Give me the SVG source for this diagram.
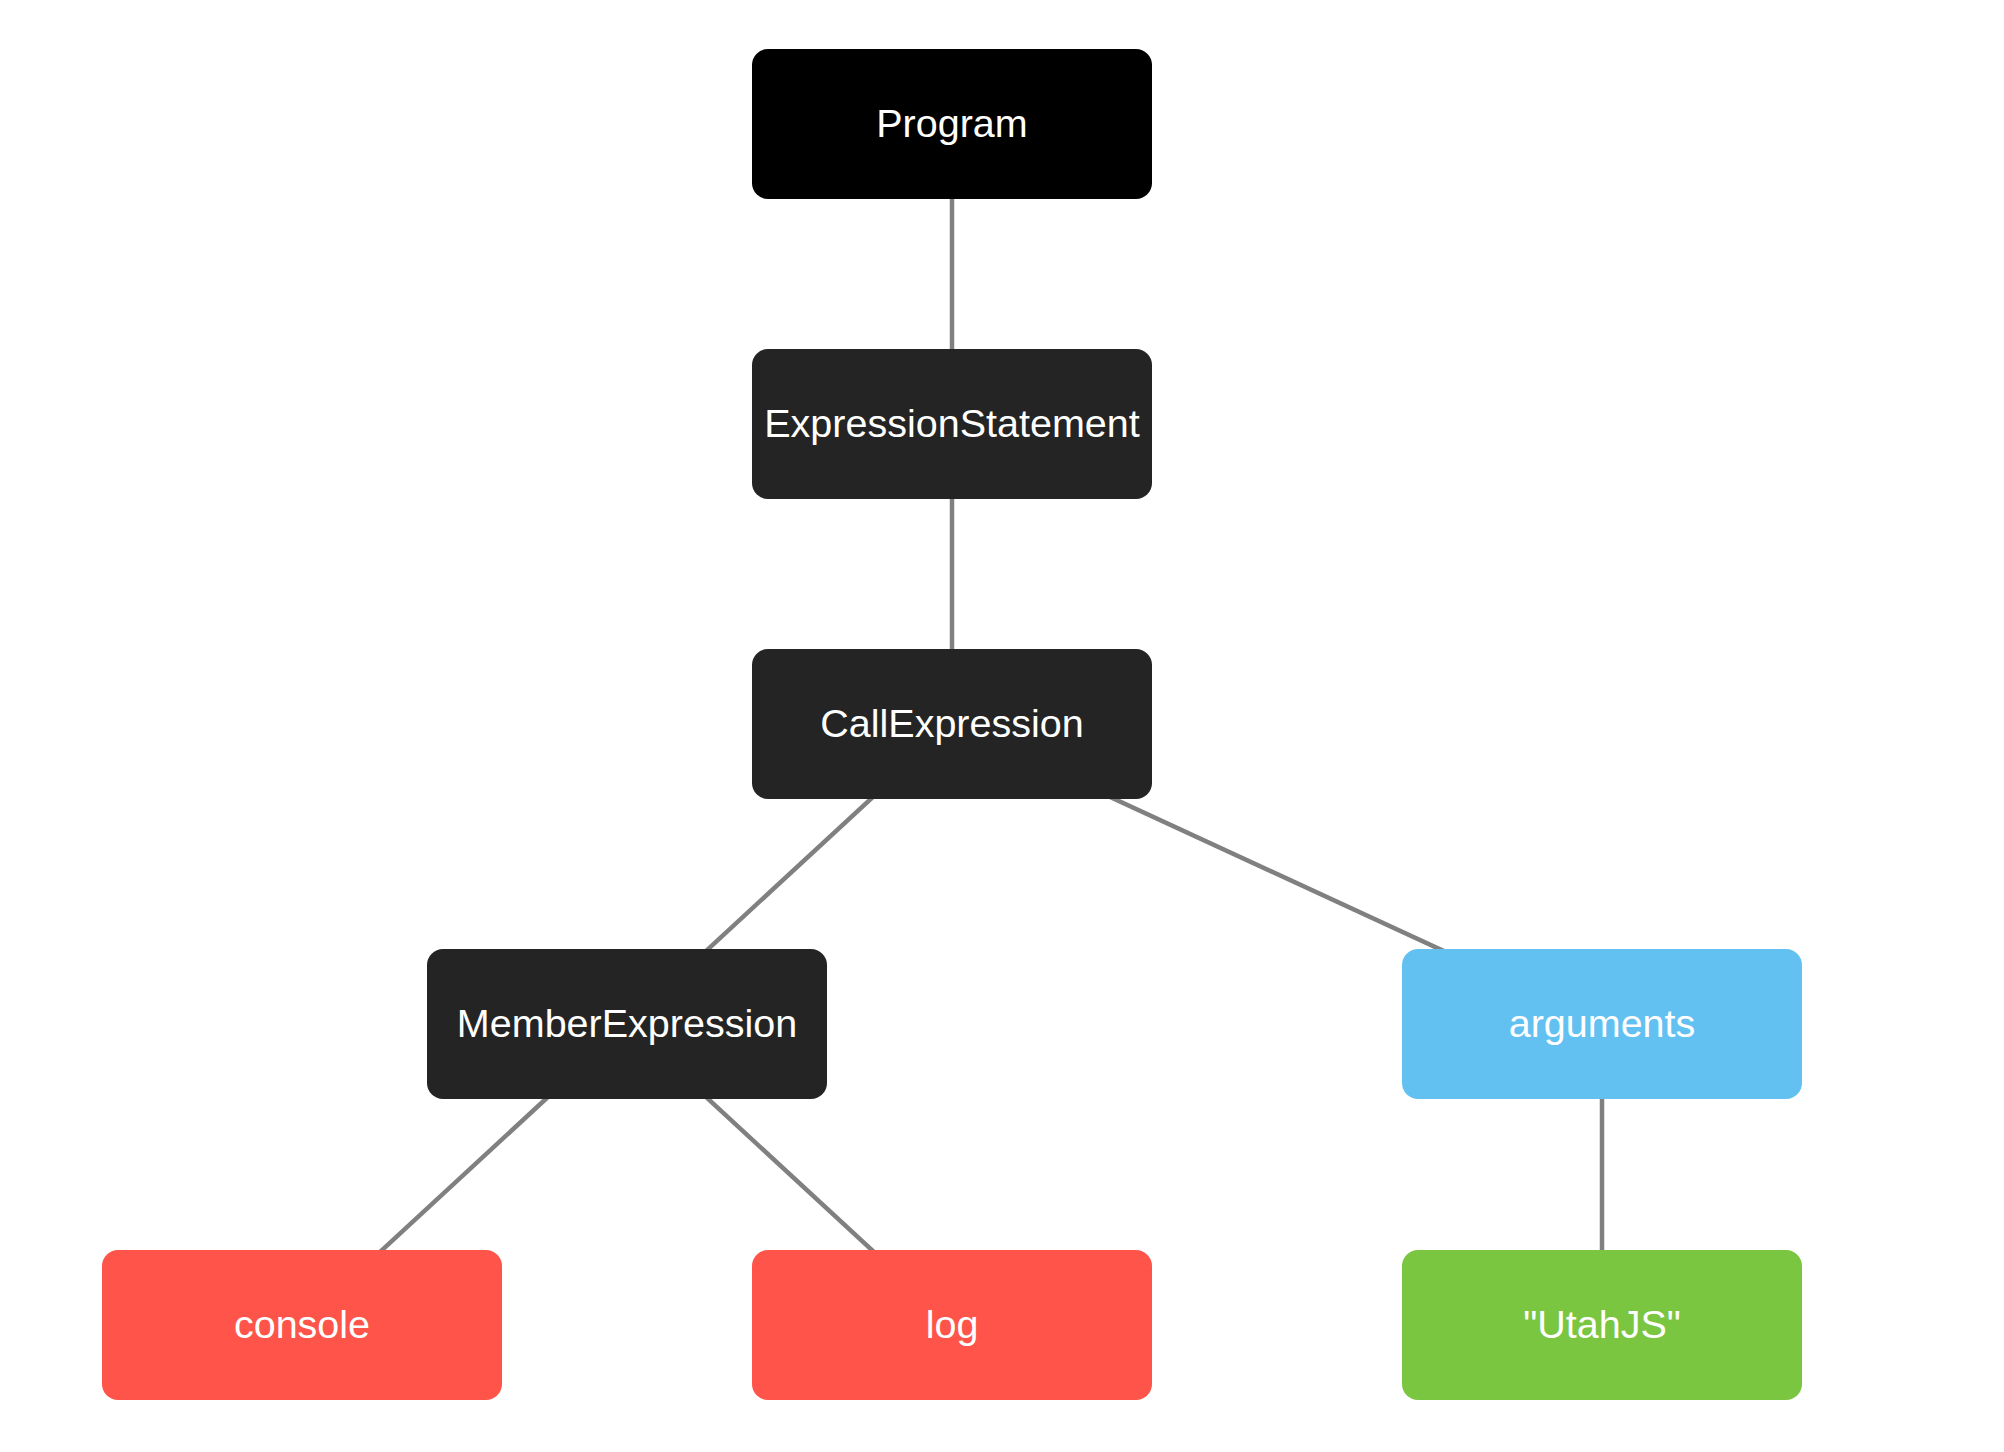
<svg xmlns="http://www.w3.org/2000/svg" width="2004" height="1452" viewBox="0 0 2004 1452">
<style>
.box{stroke:none}
.lbl{font-family:"Liberation Sans",Arial,Helvetica,sans-serif;font-size:39.5px;fill:#ffffff;text-anchor:middle}
.edge{stroke:#808080;stroke-width:4.5;fill:none}
.dark{fill:#242424}
.black{fill:#000000}
.red{fill:#ff5449}
.blue{fill:#63c1f2}
.green{fill:#7ac641}
</style>
<rect x="0" y="0" width="2004" height="1452" fill="#ffffff"/>
<g id="connectors">
<line class="edge" x1="952" y1="124" x2="952" y2="424"/>
<line class="edge" x1="952" y1="424" x2="952" y2="724"/>
<line class="edge" x1="952" y1="724" x2="627" y2="1024"/>
<line class="edge" x1="952" y1="724" x2="1602" y2="1024"/>
<line class="edge" x1="627" y1="1024" x2="302" y2="1324"/>
<line class="edge" x1="627" y1="1024" x2="952" y2="1324"/>
<line class="edge" x1="1602" y1="1024" x2="1602" y2="1324"/>
</g>
<g id="node-program">
<rect class="box black" x="752" y="49" width="400" height="150" rx="16"/>
<text class="lbl" x="952" y="137">Program</text>
</g>
<g id="node-expressionstatement">
<rect class="box dark" x="752" y="349" width="400" height="150" rx="16"/>
<text class="lbl" x="952" y="437">ExpressionStatement</text>
</g>
<g id="node-callexpression">
<rect class="box dark" x="752" y="649" width="400" height="150" rx="16"/>
<text class="lbl" x="952" y="737">CallExpression</text>
</g>
<g id="node-memberexpression">
<rect class="box dark" x="427" y="949" width="400" height="150" rx="16"/>
<text class="lbl" x="627" y="1037">MemberExpression</text>
</g>
<g id="node-arguments">
<rect class="box blue" x="1402" y="949" width="400" height="150" rx="16"/>
<text class="lbl" x="1602" y="1037">arguments</text>
</g>
<g id="node-console">
<rect class="box red" x="102" y="1250" width="400" height="150" rx="16"/>
<text class="lbl" x="302" y="1338">console</text>
</g>
<g id="node-log">
<rect class="box red" x="752" y="1250" width="400" height="150" rx="16"/>
<text class="lbl" x="952" y="1338">log</text>
</g>
<g id="node-utahjs">
<rect class="box green" x="1402" y="1250" width="400" height="150" rx="16"/>
<text class="lbl" x="1602" y="1338">"UtahJS"</text>
</g>
</svg>
